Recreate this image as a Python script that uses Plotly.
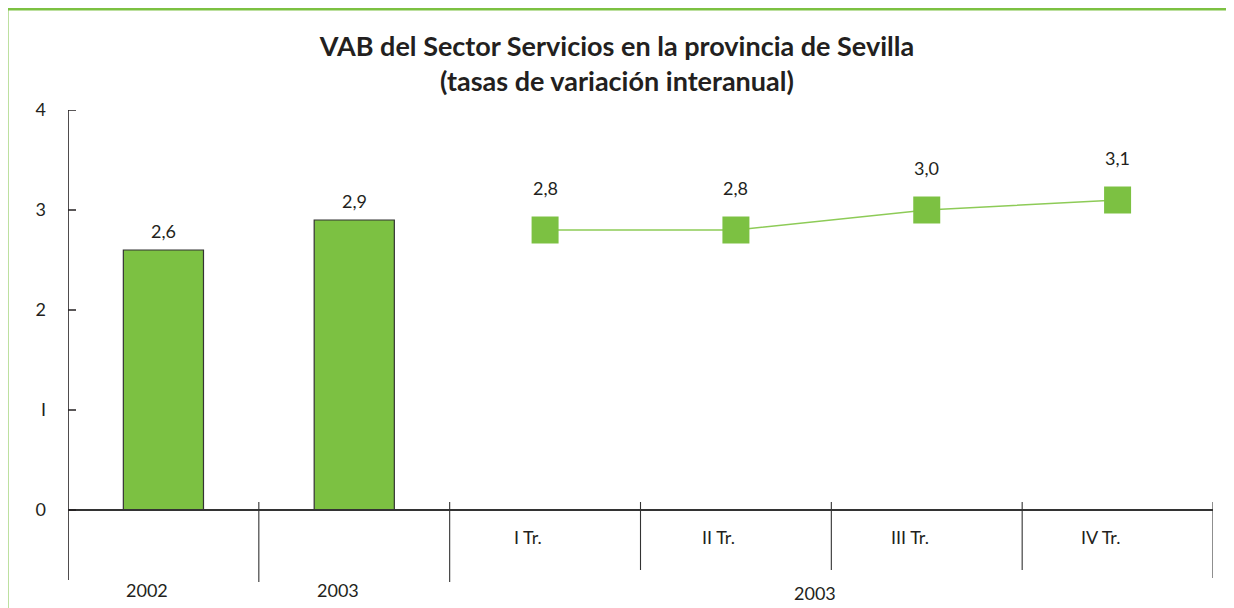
import plotly.graph_objects as go

# ---- data ----
annual_labels = ["2002", "2003"]
annual_values = [2.6, 2.9]
quarter_labels = ["I Tr.", "II Tr.", "III Tr.", "IV Tr."]
quarter_values = [2.8, 2.8, 3.0, 3.1]
quarter_year = "2003"
y_ticks = [0, 1, 2, 3, 4]
y_tick_text = ["0", "I", "2", "3", "4"]

title_text = "<b>VAB del Sector Servicios en la provincia de Sevilla<br>(tasas de variación interanual)</b>"

GREEN = "#7CC142"
LINE_GREEN = "#8DCB57"
FONT = "Lato"
TXT = "#231F20"

def fmt(v):
    return f"{v:.1f}".replace(".", ",")

n_annual = len(annual_values)
x_annual = [i + 0.5 for i in range(n_annual)]
x_quarter = [n_annual + i + 0.5 for i in range(len(quarter_values))]
n_total = n_annual + len(quarter_values)

fig = go.Figure()
fig.add_trace(go.Bar(
    x=x_annual, y=annual_values, width=0.42,
    marker=dict(color=GREEN, line=dict(color="#333333", width=1.2)),
    showlegend=False, hoverinfo="skip",
))
fig.add_trace(go.Scatter(
    x=x_quarter, y=quarter_values, mode="lines+markers",
    line=dict(color=LINE_GREEN, width=1.5),
    marker=dict(symbol="square", size=27, color=GREEN),
    showlegend=False, hoverinfo="skip",
))

LBL = dict(family=FONT, size=18, color=TXT)
annotations = []
# value labels
for x, v in zip(x_annual, annual_values):
    annotations.append(dict(x=x, y=v, xref="x", yref="y", text=fmt(v), showarrow=False,
                            yanchor="bottom", yshift=6, font=LBL))
for x, v in zip(x_quarter, quarter_values):
    annotations.append(dict(x=x, y=v, xref="x", yref="y", text=fmt(v), showarrow=False,
                            yanchor="bottom", yshift=29, font=LBL))
# category labels
for x, lab in zip(x_annual, annual_labels):
    annotations.append(dict(x=x, y=-0.8, xref="x", yref="y", text=lab, showarrow=False,
                            xshift=-16, font=LBL))
for x, lab in zip(x_quarter, quarter_labels):
    annotations.append(dict(x=x, y=-0.27, xref="x", yref="y", text=lab, showarrow=False,
                            xshift=-17, font=LBL))
annotations.append(dict(x=sum(x_quarter) / len(x_quarter), y=-0.83, xref="x", yref="y",
                        text=quarter_year, showarrow=False, xshift=-16, font=LBL))

shapes = []
# y axis line
shapes.append(dict(type="line", xref="x", yref="y", x0=0, x1=0, y0=-0.7, y1=4,
                   line=dict(color=TXT, width=1.6)))
# x axis line
shapes.append(dict(type="line", xref="x", yref="y", x0=-0.04, x1=n_total, y0=0, y1=0,
                   line=dict(color="#333333", width=2)))
# y ticks crossing axis
for t in y_ticks:
    shapes.append(dict(type="line", xref="x", yref="y", x0=-0.042, x1=0.042, y0=t, y1=t,
                       line=dict(color=TXT, width=1.5)))
# category dividers
for b in range(1, n_total + 1):
    y0 = -0.72 if b <= n_annual else (-0.68 if b == n_total else -0.6)
    shapes.append(dict(type="line", xref="x", yref="y", x0=b, x1=b, y0=0.08, y1=y0,
                       line=dict(color="#333333", width=1.1)))
# green frame
shapes.append(dict(type="rect", xref="paper", yref="paper",
                   x0=(7 - 68) / 1145, x1=(1245 - 68) / 1145, y0=-0.05, y1=1 + 101 / 498,
                   line=dict(color=GREEN, width=3), fillcolor="rgba(0,0,0,0)", layer="below"))

# page body has an 8px margin, so the figure is laid out 8px left/up of the screen position
fig.update_layout(
    width=1234, height=608,
    margin=dict(l=60, r=29, t=102, b=8, autoexpand=False),
    paper_bgcolor="white", plot_bgcolor="white",
    title=dict(text=title_text, x=(617 - 8) / 1234, xref="container", xanchor="center",
               y=1 - 48 / 608, yanchor="middle", automargin=False,
               font=dict(family=FONT, size=27, color=TXT)),
    xaxis=dict(range=[0, n_total], showgrid=False, zeroline=False, showline=False,
               showticklabels=False, ticks="", automargin=False),
    yaxis=dict(range=[-0.98, 4], showgrid=False, zeroline=False, showline=False,
               tickvals=y_ticks, ticktext=y_tick_text, ticks="", ticklabelstandoff=21,
               automargin=False, tickfont=LBL),
    annotations=annotations, shapes=shapes,
    showlegend=False,
)

fig.write_html("out.html")
